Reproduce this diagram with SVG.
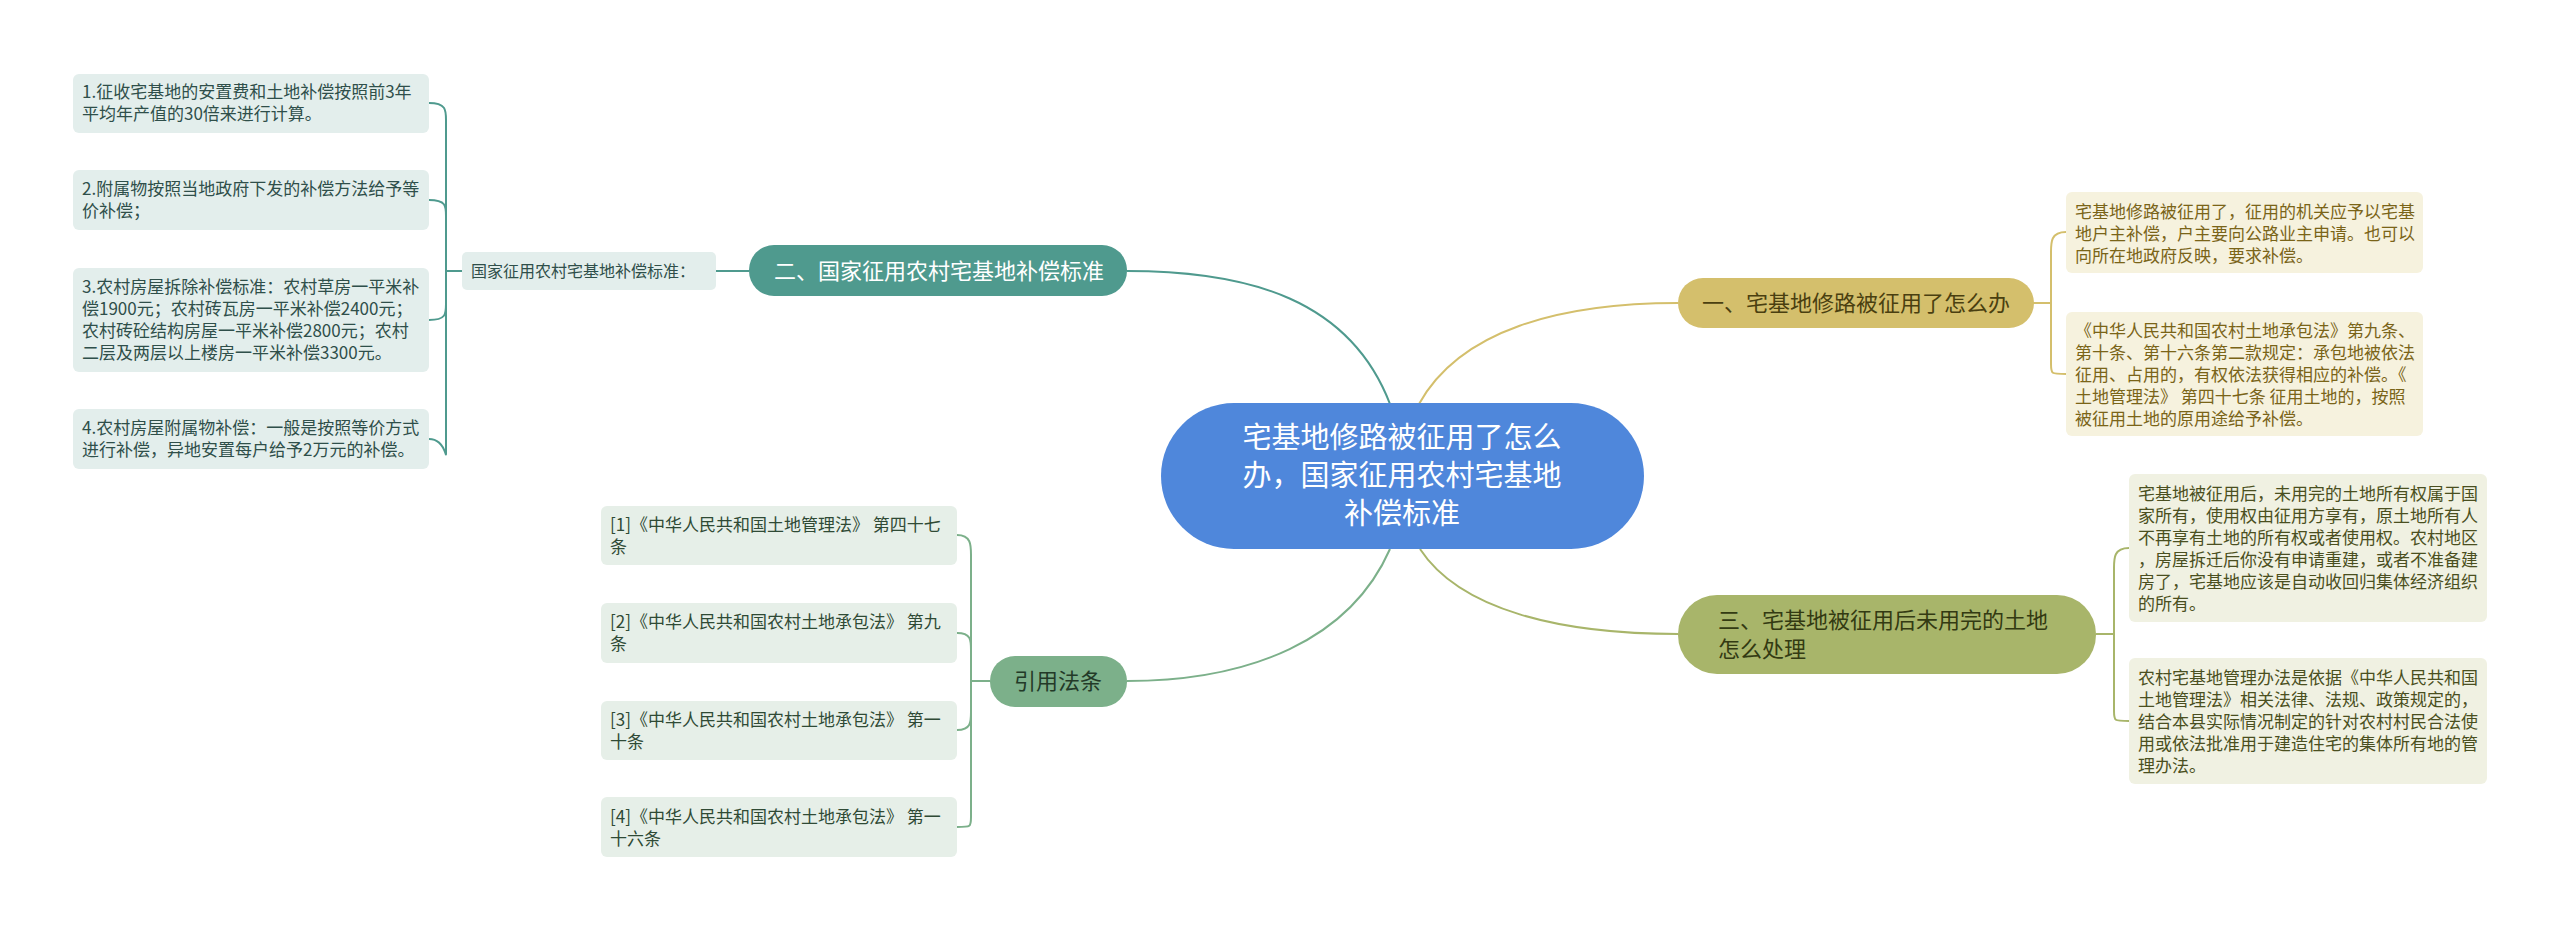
<svg xmlns="http://www.w3.org/2000/svg" width="2560" height="931" viewBox="0 0 2560 931">
<style>
text{font-family:"Noto Sans CJK SC","Noto Sans",sans-serif}
.lf{font-size:17px}
.c{fill:none;stroke-width:2}
</style>
<rect width="2560" height="931" fill="#fff"/>
<g id="connectors">
<path class="c" stroke="#4f9a8e" d="M1390,404 C1350,300 1250,271 1127,271"/>
<path class="c" stroke="#7cb08a" d="M1390,549 C1350,640 1250,681 1127,681"/>
<path class="c" stroke="#d4bf6c" d="M1419,404 C1460,330 1560,303 1678,303"/>
<path class="c" stroke="#a8b56a" d="M1420,549 C1460,610 1560,634 1678,634"/>
<path class="c" stroke="#4f9a8e" d="M749,271 H716 M462,271 H446 M429,103 C446,103 446,110 446,120 V452 C446,462 446,439 429,439 M429,200 C446,200 446,206 446,216 M429,320 C446,320 446,314 446,304"/>
<path class="c" stroke="#7cb08a" d="M990,681 H971 M957,535 C971,535 971,545 971,555 V817 C971,827 971,827 957,827 M957,633 C971,633 971,640 971,650 M957,730 C971,730 971,722 971,712"/>
<path class="c" stroke="#d4bf6c" d="M2033,303 H2051 M2066,232 C2051,232 2051,242 2051,252 V364 C2051,374 2051,374 2066,374"/>
<path class="c" stroke="#a8b56a" d="M2096,634 H2114 M2129,548 C2114,548 2114,558 2114,568 V711 C2114,721 2114,721 2129,721"/>
</g>
<g id="center">
<rect x="1161" y="403" width="483" height="146" rx="73" fill="#4f87db"/>
<text font-size="29" fill="#fff" text-anchor="middle"><tspan x="1402" y="448">宅基地修路被征用了怎么</tspan><tspan x="1402" y="486">办，国家征用农村宅基地</tspan><tspan x="1402" y="524">补偿标准</tspan></text>
</g>
<g id="b1">
<rect x="1678" y="278" width="356" height="50" rx="25" fill="#d4bf6c"/>
<text x="1702" y="311" font-size="22" fill="#4a3f10">一、宅基地修路被征用了怎么办</text>
</g>
<g id="b1l1">
<rect x="2066" y="192" width="357" height="81" rx="6" fill="#f6f2de"/>
<text class="lf" fill="#7a6418"><tspan x="2075" y="218">宅基地修路被征用了，征用的机关应予以宅基</tspan><tspan x="2075" y="240">地户主补偿，户主要向公路业主申请。也可以</tspan><tspan x="2075" y="262">向所在地政府反映，要求补偿。</tspan></text>
</g>
<g id="b1l2">
<rect x="2066" y="312" width="357" height="124" rx="6" fill="#f6f2de"/>
<text class="lf" fill="#7a6418"><tspan x="2075" y="337">《中华人民共和国农村土地承包法》第九条、</tspan><tspan x="2075" y="359">第十条、第十六条第二款规定：承包地被依法</tspan><tspan x="2075" y="381">征用、占用的，有权依法获得相应的补偿。《</tspan><tspan x="2075" y="403">土地管理法》 第四十七条 征用土地的，按照</tspan><tspan x="2075" y="425">被征用土地的原用途给予补偿。</tspan></text>
</g>
<g id="b3">
<rect x="1678" y="595" width="418" height="79" rx="39" fill="#a8b56a"/>
<text font-size="22" fill="#333a12"><tspan x="1718" y="628">三、宅基地被征用后未用完的土地</tspan><tspan x="1718" y="657">怎么处理</tspan></text>
</g>
<g id="b3l1">
<rect x="2129" y="474" width="358" height="148" rx="6" fill="#f0f1e2"/>
<text class="lf" fill="#4a4f20"><tspan x="2138" y="500">宅基地被征用后，未用完的土地所有权属于国</tspan><tspan x="2138" y="522">家所有，使用权由征用方享有，原土地所有人</tspan><tspan x="2138" y="544">不再享有土地的所有权或者使用权。农村地区</tspan><tspan x="2138" y="566">，房屋拆迁后你没有申请重建，或者不准备建</tspan><tspan x="2138" y="588">房了，宅基地应该是自动收回归集体经济组织</tspan><tspan x="2138" y="610">的所有。</tspan></text>
</g>
<g id="b3l2">
<rect x="2129" y="658" width="358" height="126" rx="6" fill="#f0f1e2"/>
<text class="lf" fill="#4a4f20"><tspan x="2138" y="684">农村宅基地管理办法是依据《中华人民共和国</tspan><tspan x="2138" y="706">土地管理法》相关法律、法规、政策规定的，</tspan><tspan x="2138" y="728">结合本县实际情况制定的针对农村村民合法使</tspan><tspan x="2138" y="750">用或依法批准用于建造住宅的集体所有地的管</tspan><tspan x="2138" y="772">理办法。</tspan></text>
</g>
<g id="b2">
<rect x="749" y="245" width="378" height="51" rx="25" fill="#4f9a8e"/>
<text x="774" y="279" font-size="22" fill="#fff">二、国家征用农村宅基地补偿标准</text>
</g>
<g id="b2s">
<rect x="462" y="252" width="254" height="38" rx="5" fill="#e3eeec"/>
<text x="471" y="277" font-size="16" fill="#2f4f4a">国家征用农村宅基地补偿标准：</text>
</g>
<g id="b2l1">
<rect x="73" y="74" width="356" height="59" rx="6" fill="#e3eeec"/>
<text class="lf" fill="#2f4f4a"><tspan x="82" y="98">1.征收宅基地的安置费和土地补偿按照前3年</tspan><tspan x="82" y="120">平均年产值的30倍来进行计算。</tspan></text>
</g>
<g id="b2l2">
<rect x="73" y="170" width="356" height="60" rx="6" fill="#e3eeec"/>
<text class="lf" fill="#2f4f4a"><tspan x="82" y="195">2.附属物按照当地政府下发的补偿方法给予等</tspan><tspan x="82" y="217">价补偿；</tspan></text>
</g>
<g id="b2l3">
<rect x="73" y="268" width="356" height="104" rx="6" fill="#e3eeec"/>
<text class="lf" fill="#2f4f4a"><tspan x="82" y="293">3.农村房屋拆除补偿标准：农村草房一平米补</tspan><tspan x="82" y="315">偿1900元；农村砖瓦房一平米补偿2400元；</tspan><tspan x="82" y="337">农村砖砼结构房屋一平米补偿2800元；农村</tspan><tspan x="82" y="359">二层及两层以上楼房一平米补偿3300元。</tspan></text>
</g>
<g id="b2l4">
<rect x="73" y="409" width="356" height="60" rx="6" fill="#e3eeec"/>
<text class="lf" fill="#2f4f4a"><tspan x="82" y="434">4.农村房屋附属物补偿：一般是按照等价方式</tspan><tspan x="82" y="456">进行补偿，异地安置每户给予2万元的补偿。</tspan></text>
</g>
<g id="b4">
<rect x="990" y="656" width="137" height="51" rx="25" fill="#7cb08a"/>
<text x="1058" y="689" font-size="22" fill="#233a28" text-anchor="middle">引用法条</text>
</g>
<g id="b4l1">
<rect x="601" y="506" width="356" height="59" rx="6" fill="#e6efe8"/>
<text class="lf" fill="#2f4a35"><tspan x="610" y="531">[1]《中华人民共和国土地管理法》 第四十七</tspan><tspan x="610" y="553">条</tspan></text>
</g>
<g id="b4l2">
<rect x="601" y="603" width="356" height="60" rx="6" fill="#e6efe8"/>
<text class="lf" fill="#2f4a35"><tspan x="610" y="628">[2]《中华人民共和国农村土地承包法》 第九</tspan><tspan x="610" y="650">条</tspan></text>
</g>
<g id="b4l3">
<rect x="601" y="701" width="356" height="59" rx="6" fill="#e6efe8"/>
<text class="lf" fill="#2f4a35"><tspan x="610" y="726">[3]《中华人民共和国农村土地承包法》 第一</tspan><tspan x="610" y="748">十条</tspan></text>
</g>
<g id="b4l4">
<rect x="601" y="797" width="356" height="60" rx="6" fill="#e6efe8"/>
<text class="lf" fill="#2f4a35"><tspan x="610" y="823">[4]《中华人民共和国农村土地承包法》 第一</tspan><tspan x="610" y="845">十六条</tspan></text>
</g>
</svg>
